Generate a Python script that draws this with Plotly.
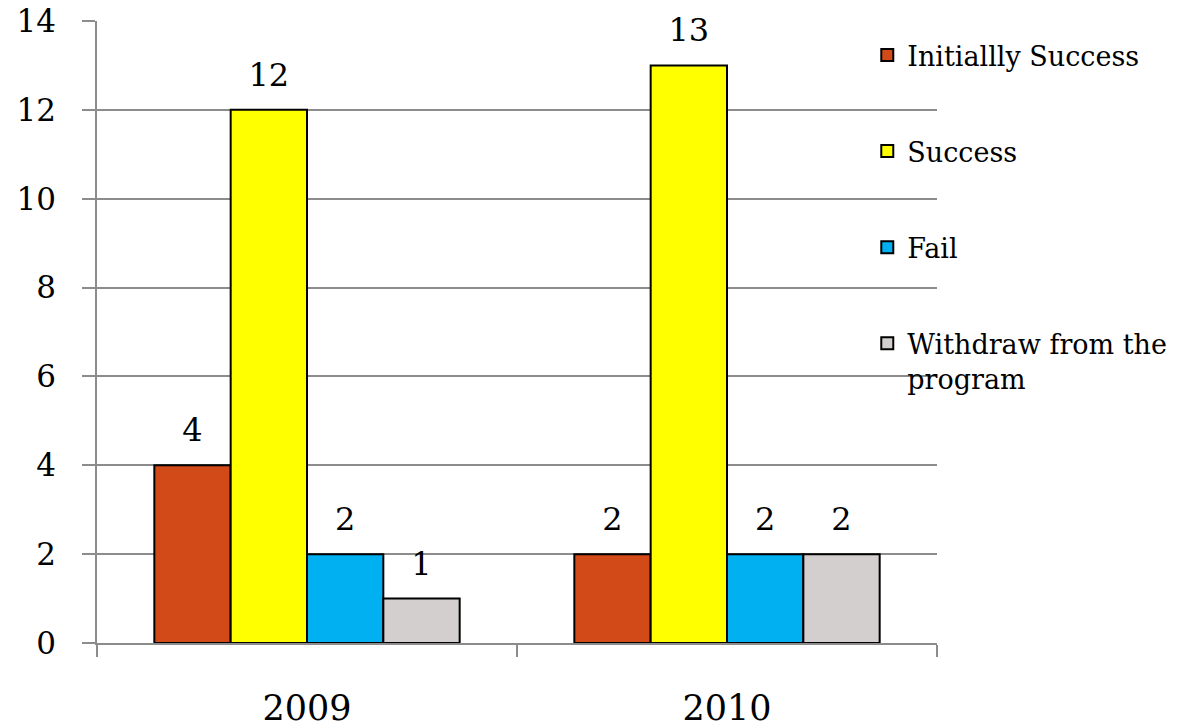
import plotly.graph_objects as go

years = ["2009", "2010"]
series_names = ["Initiallly Success", "Success", "Fail", "Withdraw from the<br>program"]
initially_success = [4, 2]
success = [12, 13]
fail = [2, 2]
withdraw = [1, 2]
colors = ["#D24A18", "#FFFF00", "#00B0F0", "#D3CFCE"]

FONT = "DejaVu Serif"
values = [initially_success, success, fail, withdraw]
GAP = 0.273

fig = go.Figure()
for i, (name, vals, col) in enumerate(zip(series_names, values, colors)):
    fig.add_trace(go.Bar(
        x=years, y=vals, name=name,
        marker=dict(color=col, line=dict(color="black", width=2)),
        legendgroup=f"g{i}", offsetgroup=f"g{i}",
    ))
for i, vals in enumerate(values):
    fig.add_trace(go.Scatter(
        x=years, y=vals, mode="markers+text",
        text=[str(v) for v in vals], textposition="top center",
        textfont=dict(family=FONT, size=32, color="black"),
        marker=dict(size=24, color="rgba(0,0,0,0)"),
        showlegend=False, hoverinfo="skip", cliponaxis=False,
        offsetgroup=f"g{i}", legendgroup=f"g{i}",
    ))

fig.update_layout(
    width=1186, height=728,
    margin=dict(l=97, r=249, t=21, b=85),
    plot_bgcolor="white", paper_bgcolor="white",
    barmode="group", bargap=GAP, bargroupgap=0,
    scattermode="group", scattergap=GAP,
    font=dict(family=FONT, size=30, color="black"),
    legend=dict(
        x=0.917, xanchor="left", y=0.984, yanchor="top",
        font=dict(family=FONT, size=27, color="black"),
        traceorder="grouped", tracegroupgap=58, valign="top",
        bgcolor="rgba(0,0,0,0)",
    ),
    showlegend=True,
)
fig.update_yaxes(
    range=[0, 14], dtick=2, showgrid=True, gridcolor="#8C8C8C", gridwidth=1.5,
    showline=True, linecolor="#8C8C8C", linewidth=1.5,
    ticks="outside", ticklen=13, tickcolor="#8C8C8C", tickwidth=1.5,
    tickfont=dict(family=FONT, size=31, color="black"),
    ticklabelstandoff=20, zeroline=False, automargin=False,
    ticklabeloverflow="allow",
)
fig.update_xaxes(
    showline=True, linecolor="#8C8C8C", linewidth=1.5,
    ticks="outside", ticklen=12, tickcolor="#8C8C8C", tickwidth=1.5,
    tickson="boundaries",
    tickfont=dict(family=FONT, size=35, color="black"),
    ticklabelstandoff=33, automargin=False,
)

fig.write_html("out.html", config={"displayModeBar": False},
               post_script="document.body.style.margin='0px';")
